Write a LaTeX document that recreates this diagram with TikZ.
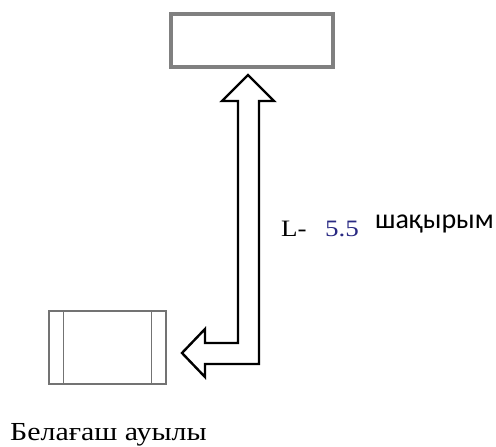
\documentclass[tikz,border=0pt]{standalone}
\usepackage{fontspec}
\setmainfont{Liberation Serif}
\newfontfamily\wideserif[FakeStretch=1.15]{Liberation Serif}
\newfontfamily\calib{Carlito}
\begin{document}
\begin{tikzpicture}[x=1pt,y=-1pt,
  topbox/.style={draw=black!50,line width=4pt},
  villagebox/.style={draw=black!55,line width=1.6pt},
  bigarrow/.style={draw=black,line width=2.4pt,line join=miter,fill=white},
  lbl/.style={inner sep=0pt,anchor=base west}]
\useasboundingbox (0,0) rectangle (496,447);
% top box
\draw[topbox] (171,14) rectangle (333,67);
% village box
\draw[villagebox] (49,311) rectangle (166,384);
\draw[villagebox,line width=1.2pt] (63.5,311) -- (63.5,384);
\draw[villagebox,line width=1.2pt] (151.5,311) -- (151.5,384);
% arrow
\draw[bigarrow] (248,75) -- (274,101) -- (259,101) -- (259,364) -- (205,364)
  -- (205,377) -- (182,353) -- (205,329) -- (205,343) -- (238,343)
  -- (238,101) -- (222,101) -- cycle;
% labels
\node[lbl,font=\wideserif\fontsize{23.5}{26}\selectfont] (L) at (281,236.5) {L-};
\node[lbl,font=\wideserif\fontsize{23.5}{26}\selectfont,text={rgb,255:red,40;green,40;blue,130}] (num) at (325,236.5) {5.5};
\node[lbl,font=\calib\fontsize{28}{30}\selectfont] (unit) at (375,228) {шақырым};
\node[lbl,font=\wideserif\fontsize{26}{28}\selectfont] (vil) at (10,440) {Белағаш ауылы};
\end{tikzpicture}
\end{document}
